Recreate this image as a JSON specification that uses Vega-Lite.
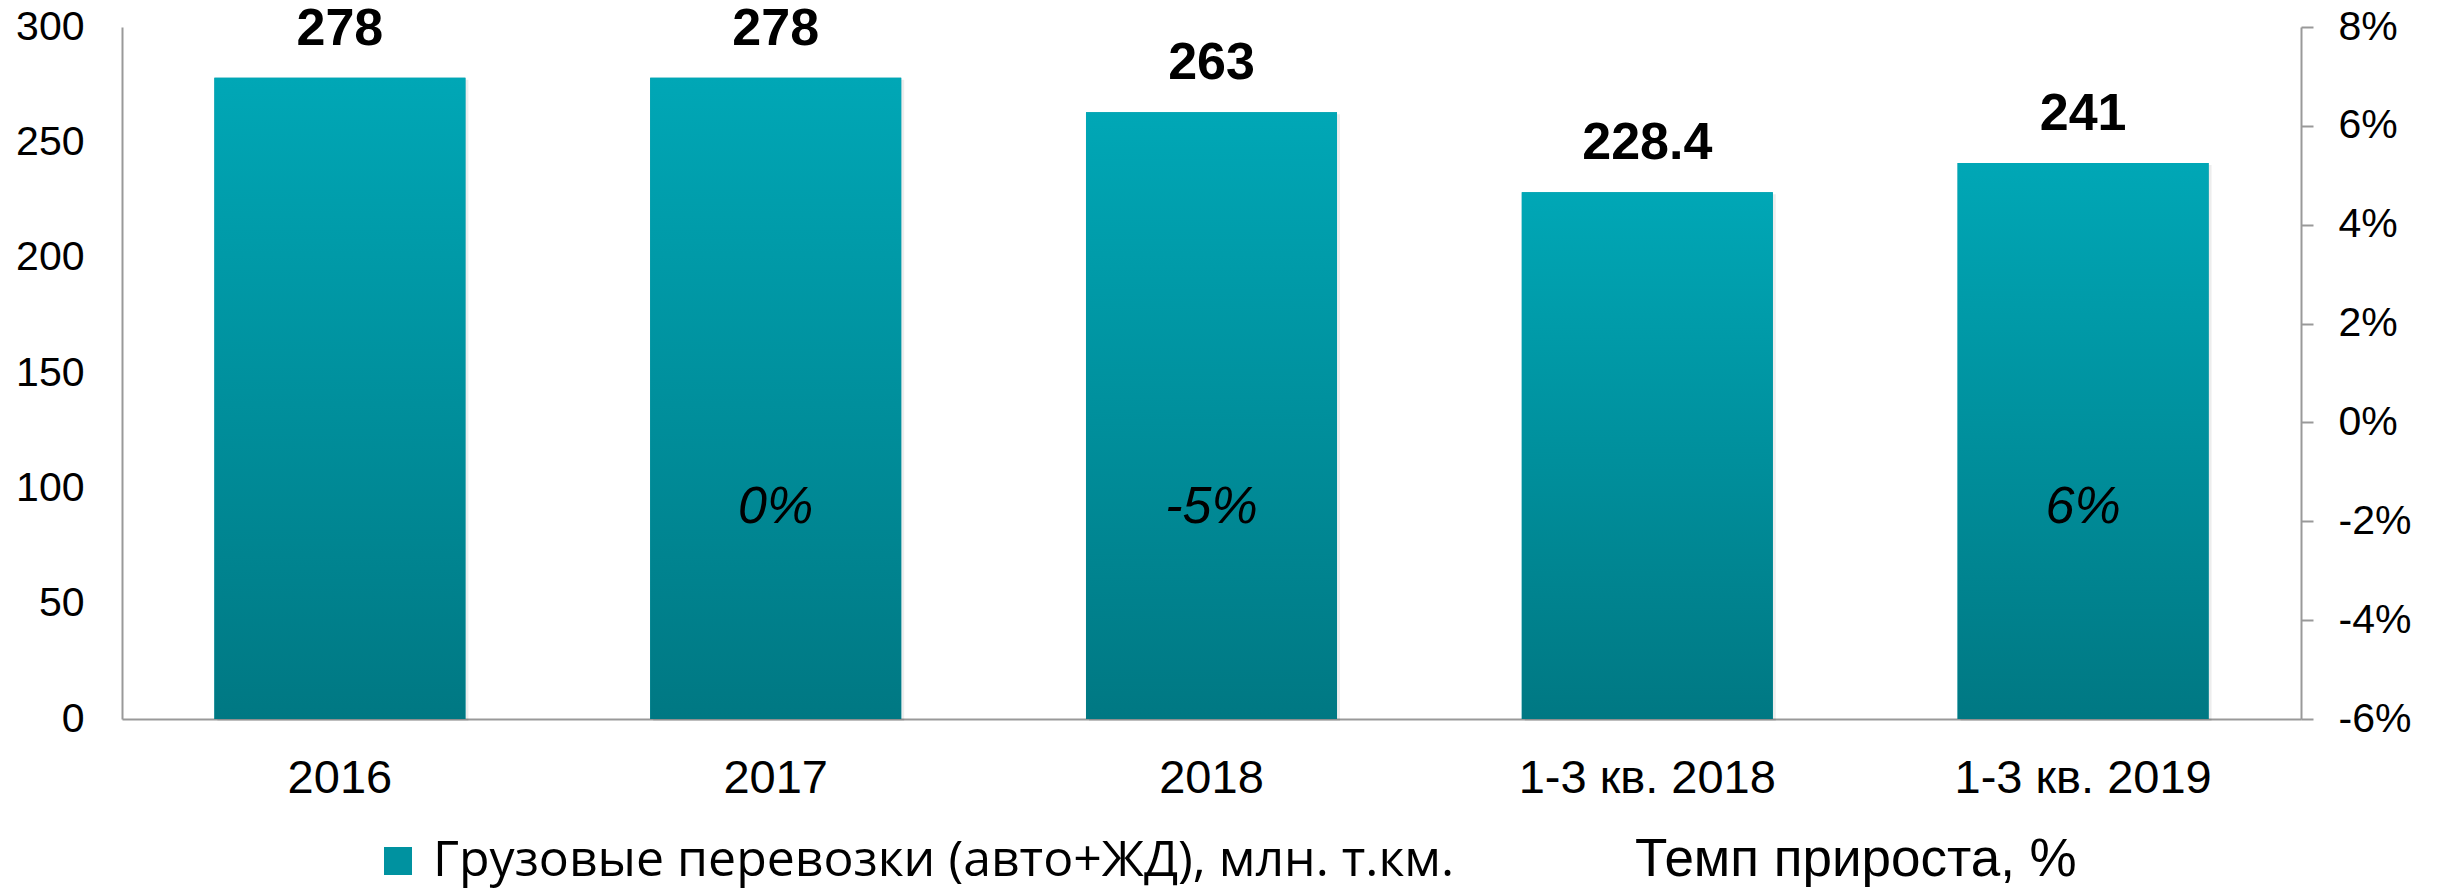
{
  "$schema": "https://vega.github.io/schema/vega-lite/v6.json",
  "width": 2179,
  "height": 692,
  "autosize": {"type": "none"},
  "padding": {"left": 122, "top": 27, "right": 137, "bottom": 169},
  "background": "white",
  "config": {
    "font": "Liberation Sans",
    "view": {"stroke": null},
    "axis": {"grid": false, "labelColor": "#000000", "labelFont": "Liberation Sans"},
    "locale": {"number": {"decimal": ".", "thousands": ",", "grouping": [3], "currency": ["$", ""], "minus": "-"}}
  },
  "data": {
    "values": [
      {"period": "2016", "volume": 278, "growth": null},
      {"period": "2017", "volume": 278, "growth": 0},
      {"period": "2018", "volume": 263, "growth": -0.05},
      {"period": "1-3 кв. 2018", "volume": 228.4, "growth": null},
      {"period": "1-3 кв. 2019", "volume": 241, "growth": 0.06}
    ]
  },
  "encoding": {
    "x": {
      "field": "period",
      "type": "nominal",
      "sort": null,
      "scale": {"paddingInner": 0.424, "paddingOuter": 0.212},
      "axis": {
        "title": null,
        "labelAngle": 0,
        "labelLimit": 0,
        "ticks": false,
        "domainColor": "#999999",
        "domainWidth": 2,
        "labelFontSize": 47,
        "labelPadding": 36
      }
    }
  },
  "layer": [
    {
      "layer": [
        {
          "mark": {"type": "bar", "color": "#000000", "opacity": 0.07, "xOffset": 3, "yOffset": 2},
          "encoding": {
            "y": {
              "field": "volume",
              "type": "quantitative",
              "scale": {"domain": [0, 300], "nice": false},
              "axis": {
                "title": null,
                "ticks": false,
                "domainColor": "#999999",
                "domainWidth": 2,
                "labelFontSize": 41,
                "labelPadding": 38,
                "values": [0, 50, 100, 150, 200, 250, 300]
              }
            }
          }
        },
        {
          "mark": {"type": "bar"},
          "encoding": {
            "y": {"field": "volume", "type": "quantitative"},
            "color": {
              "datum": "Грузовые перевозки (авто+ЖД), млн. т.км.",
              "type": "nominal",
              "scale": {
                "domain": ["Грузовые перевозки (авто+ЖД), млн. т.км.", "Темп прироста, %"],
                "range": ["#0092A0", "transparent"]
              },
              "legend": {
                "title": null,
                "orient": "none",
                "legendX": 251,
                "legendY": 808,
                "direction": "horizontal",
                "symbolType": "square",
                "symbolSize": 784,
                "symbolStrokeWidth": 0,
                "labelFontSize": 50,
                "labelColor": "#000000",
                "labelOffset": 10,
                "labelLimit": 0,
                "columnPadding": 120,
                "encode": {
                  "labels": {
                    "update": {
                      "font": {"signal": "datum.label == 'Темп прироста, %' ? 'Liberation Sans' : 'Open Sans'"},
                      "fontSize": {"signal": "datum.label == 'Темп прироста, %' ? 53 : 50"}
                    }
                  }
                }
              }
            }
          }
        },
        {
          "mark": {
            "type": "bar",
            "color": {"gradient": "linear", "x1": 0, "y1": 0, "x2": 0, "y2": 1, "stops": [{"offset": 0, "color": "#00A7B6"}, {"offset": 1, "color": "#007883"}]}
          },
          "encoding": {
            "y": {"field": "volume", "type": "quantitative"}
          }
        },
        {
          "mark": {"type": "text", "baseline": "bottom", "dy": -22, "fontSize": 52, "fontWeight": "bold", "color": "#000000"},
          "encoding": {
            "y": {"field": "volume", "type": "quantitative"},
            "text": {"field": "volume", "type": "nominal"}
          }
        },
        {
          "transform": [{"filter": "datum.growth != null"}],
          "mark": {"type": "text", "baseline": "middle", "fontSize": 52, "fontStyle": "italic", "color": "#000000"},
          "encoding": {
            "y": {"datum": 92, "type": "quantitative"},
            "text": {"field": "growth", "type": "quantitative", "format": ".0%"}
          }
        }
      ]
    },
    {
      "mark": {"type": "line", "strokeOpacity": 0},
      "encoding": {
        "y": {
          "field": "growth",
          "type": "quantitative",
          "scale": {"domain": [-0.06, 0.08], "nice": false},
          "axis": {
            "orient": "right",
            "title": null,
            "format": ".0%",
            "values": [-0.06, -0.04, -0.02, 0, 0.02, 0.04, 0.06, 0.08],
            "ticks": true,
            "tickSize": 12,
            "tickColor": "#999999",
            "tickWidth": 2,
            "domainColor": "#999999",
            "domainWidth": 2,
            "labelFontSize": 41,
            "labelPadding": 25
          }
        },
        "color": {"datum": "Темп прироста, %", "type": "nominal"}
      }
    }
  ],
  "resolve": {"scale": {"y": "independent"}}
}
